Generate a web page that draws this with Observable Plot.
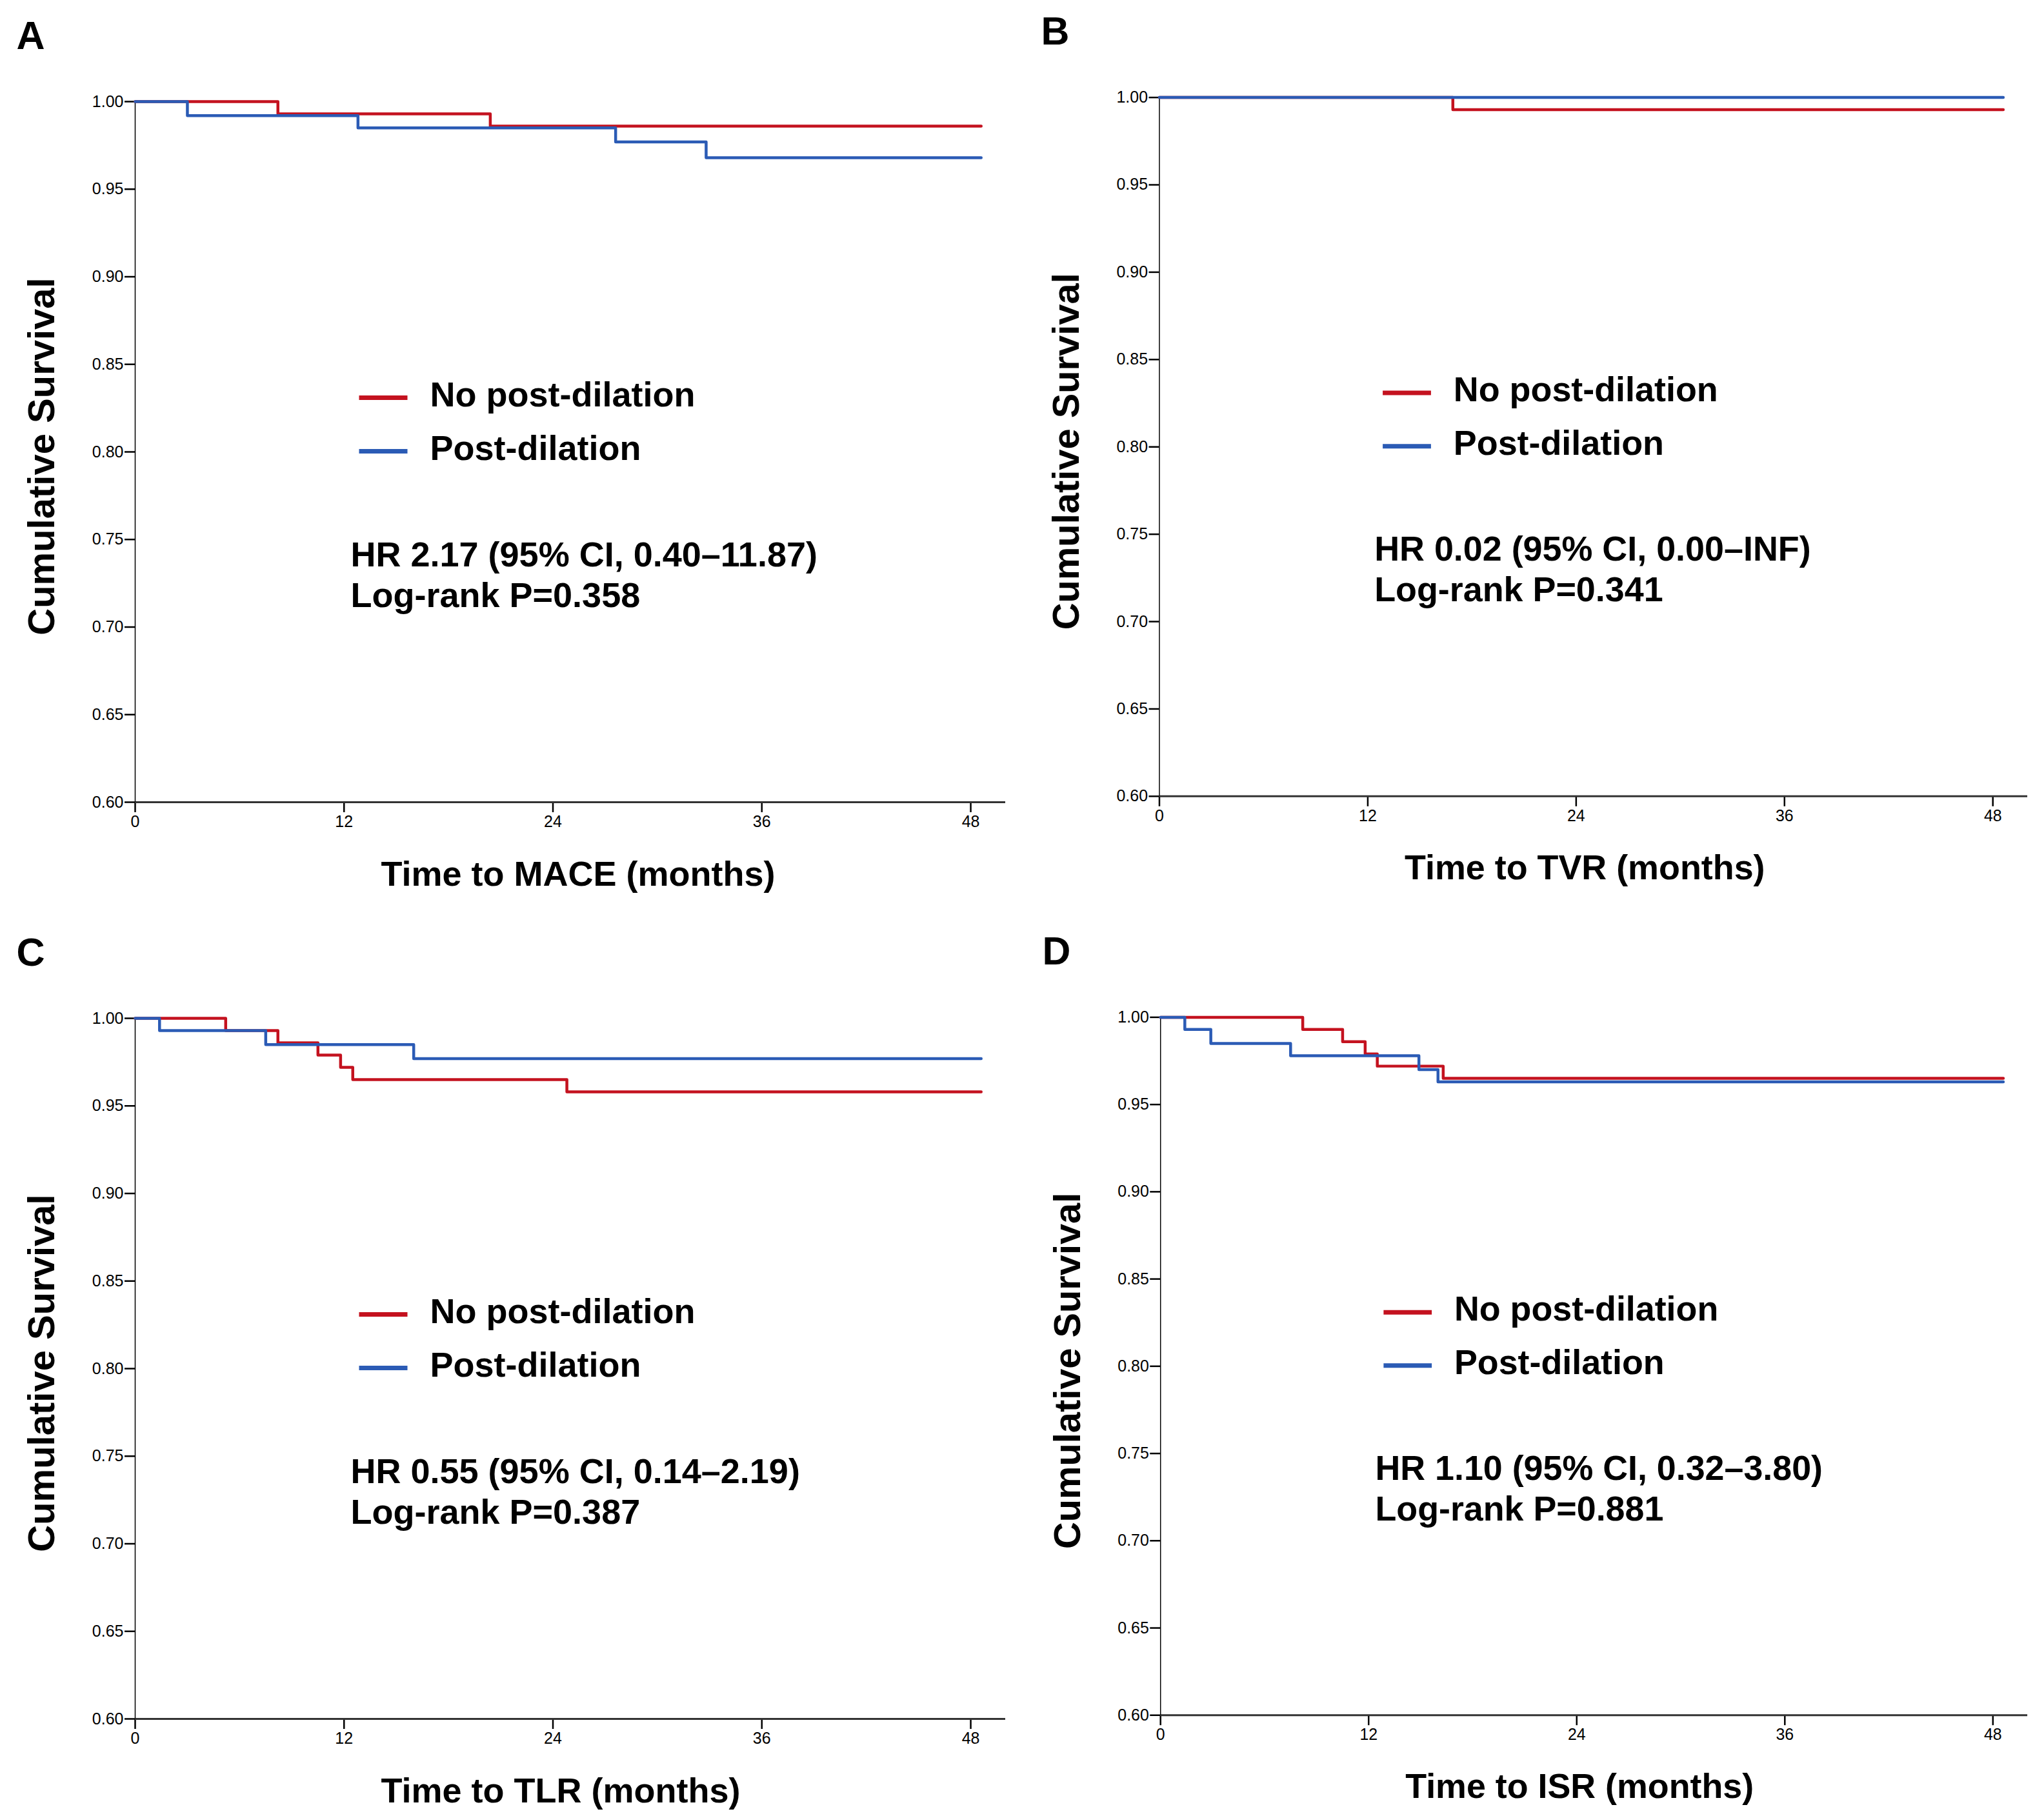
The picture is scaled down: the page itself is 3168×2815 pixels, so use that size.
<!DOCTYPE html>
<html>
<head>
<meta charset="utf-8">
<script src="https://cdn.jsdelivr.net/npm/d3@7"></script>
<script src="https://cdn.jsdelivr.net/npm/@observablehq/plot@0.6"></script>
<style>
  html, body { margin: 0; padding: 0; background: #fff; overflow: hidden; }
  #fig { position: relative; width: 3168px; height: 2815px; background: #fff; }
  #fig > div { position: absolute; }
  svg { font-family: "Liberation Sans", Arial, Helvetica, sans-serif; }
</style>
</head>
<body>
<div id="fig"></div>
<script>
// ---------- data ----------
const panelLetters = ["A", "B", "C", "D"];
const xLabels = ["Time to MACE (months)", "Time to TVR (months)", "Time to TLR (months)", "Time to ISR (months)"];
const hrTexts = [
  "HR 2.17 (95% CI, 0.40\u201311.87)",
  "HR 0.02 (95% CI, 0.00\u2013INF)",
  "HR 0.55 (95% CI, 0.14\u20132.19)",
  "HR 1.10 (95% CI, 0.32\u20133.80)"
];
const pTexts = ["Log-rank P=0.358", "Log-rank P=0.341", "Log-rank P=0.387", "Log-rank P=0.881"];
const groupNames = ["No post-dilation", "Post-dilation"];
const groupColors = ["#c4121f", "#2b5bb5"];
const xTicks = [0, 12, 24, 36, 48];
const yTicks = [0.60, 0.65, 0.70, 0.75, 0.80, 0.85, 0.90, 0.95, 1.00];
const yLabel = "Cumulative Survival";

// Kaplan-Meier step points (time in months, cumulative survival)
const aNoTime   = [0, 8.2, 20.4, 48.6];
const aNoSurv   = [1.000, 0.993, 0.986, 0.986];
const aPostTime = [0, 3.0, 12.8, 27.6, 32.8, 48.6];
const aPostSurv = [1.000, 0.992, 0.985, 0.977, 0.968, 0.968];

const bNoTime   = [0, 16.9, 48.6];
const bNoSurv   = [1.000, 0.993, 0.993];
const bPostTime = [0, 48.6];
const bPostSurv = [1.000, 1.000];

const cNoTime   = [0, 5.2, 8.2, 10.5, 11.8, 12.5, 24.8, 48.6];
const cNoSurv   = [1.000, 0.993, 0.986, 0.979, 0.972, 0.965, 0.958, 0.958];
const cPostTime = [0, 1.4, 7.5, 16.0, 48.6];
const cPostSurv = [1.000, 0.993, 0.985, 0.977, 0.977];

const dNoTime   = [0, 8.2, 10.5, 11.8, 12.5, 16.3, 48.6];
const dNoSurv   = [1.000, 0.993, 0.986, 0.979, 0.972, 0.965, 0.965];
const dPostTime = [0, 1.4, 2.9, 7.5, 14.9, 16.0, 48.6];
const dPostSurv = [1.000, 0.993, 0.985, 0.978, 0.970, 0.963, 0.963];

const panelSeries = [
  [[aNoTime, aNoSurv], [aPostTime, aPostSurv]],
  [[bNoTime, bNoSurv], [bPostTime, bPostSurv]],
  [[cNoTime, cNoSurv], [cPostTime, cPostSurv]],
  [[dNoTime, dNoSurv], [dPostTime, dPostSurv]]
];

// ---------- layout ----------
const W = 1584, H = 1420;
const ML = 209, MR = 26, MT = 157, MB = 177;
const panelPos = [[0, 0], [1588, -6], [0, 1421], [1590, 1420]];
const xDomain = [0, 50];
const yDomain = [0.6, 1.0];
const fw = W - ML - MR, fh = H - MT - MB;
const px2x = p => xDomain[0] + (p / fw) * (xDomain[1] - xDomain[0]);
const px2y = p => yDomain[1] - (p / fh) * (yDomain[1] - yDomain[0]);

function makePanel(i) {
  const lines = panelSeries[i].map(([t, s], g) => t.map((tt, k) => ({t: tt, s: s[k], g})));
  const legendRows = groupNames.map((name, g) => ({
    name, g,
    x1: px2x(347), x2: px2x(422),
    y: px2y(459 + g * 83),
    tx: px2x(457), ty: px2y(455 + g * 83)
  }));
  return Plot.plot({
    width: W, height: H,
    marginLeft: ML, marginRight: MR, marginTop: MT, marginBottom: MB,
    x: {domain: xDomain},
    y: {domain: yDomain},
    style: {fontFamily: '"Liberation Sans", Arial, sans-serif', background: "#fff", overflow: "visible"},
    marks: [
      Plot.axisY({ticks: yTicks, tickFormat: d3.format(".2f"), tickSize: 16, tickPadding: 2, fontSize: 25, strokeWidth: 2.5, label: null, color: "#000"}),
      Plot.axisX({ticks: xTicks, tickFormat: d => String(d), tickSize: 16, tickPadding: 5, fontSize: 25, strokeWidth: 2.5, label: null, color: "#000"}),
      Plot.ruleY([yDomain[0]], {stroke: "#333", strokeWidth: 3}),
      Plot.ruleX([xDomain[0]], {stroke: "#000", strokeWidth: 1.5}),
      ...lines.map((pts, g) => Plot.line(pts, {x: "t", y: "s", curve: "step-after", stroke: groupColors[g], strokeWidth: 4.5})),
      Plot.link(legendRows, {x1: "x1", x2: "x2", y1: "y", y2: "y", stroke: d => groupColors[d.g], strokeWidth: 7}),
      Plot.text(legendRows, {x: "tx", y: "ty", text: "name", textAnchor: "start", lineAnchor: "middle", fontSize: 54, fontWeight: "bold", fill: "#000"}),
      Plot.text([hrTexts[i]], {frameAnchor: "top-left", dx: 334, dy: 720, textAnchor: "start", lineAnchor: "bottom", fontSize: 54, fontWeight: "bold", fill: "#000"}),
      Plot.text([pTexts[i]], {frameAnchor: "top-left", dx: 334, dy: 783, textAnchor: "start", lineAnchor: "bottom", fontSize: 54, fontWeight: "bold", fill: "#000"}),
      Plot.text([xLabels[i]], {frameAnchor: "bottom-left", dx: 381, dy: 129, textAnchor: "start", lineAnchor: "bottom", fontSize: 54, fontWeight: "bold", fill: "#000"}),
      Plot.text([yLabel], {frameAnchor: "left", dx: -144, dy: 7, rotate: -90, textAnchor: "middle", lineAnchor: "middle", fontSize: 58, fontWeight: "bold", fill: "#000"}),
      Plot.text([panelLetters[i]], {frameAnchor: "top-left", dx: -184, dy: -82, textAnchor: "start", lineAnchor: "bottom", fontSize: 61, fontWeight: "bold", fill: "#000"})
    ]
  });
}

const fig = document.getElementById("fig");
panelLetters.forEach((_, i) => {
  const div = document.createElement("div");
  div.style.left = panelPos[i][0] + "px";
  div.style.top = panelPos[i][1] + "px";
  div.appendChild(makePanel(i));
  fig.appendChild(div);
});
</script>
</body>
</html>
